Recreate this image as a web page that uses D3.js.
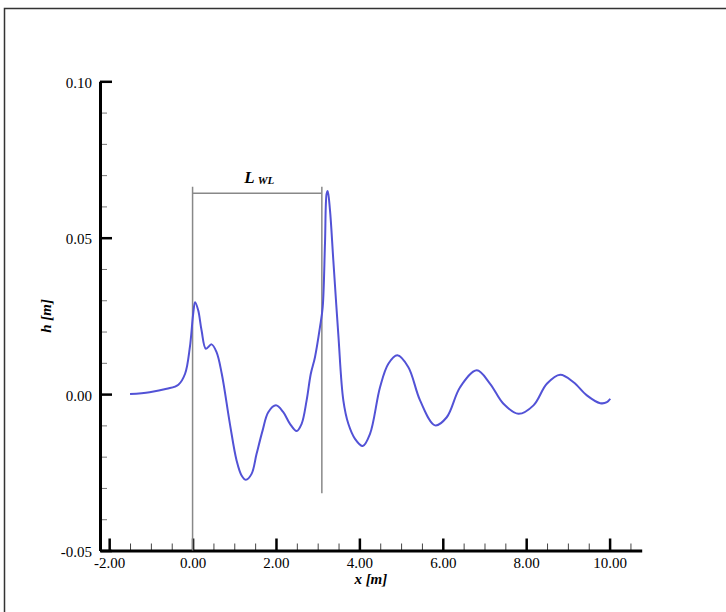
<!DOCTYPE html>
<html>
<head>
<meta charset="utf-8">
<script src="https://cdn.jsdelivr.net/npm/d3@7/dist/d3.min.js"></script>
<style>
  html, body { margin: 0; padding: 0; background: #fff; }
  svg { display: block; }
</style>
</head>
<body>
<div id="chart"></div>
<script>
// wave elevation along the channel
const xPos = [-1.5, -1.03, -0.62, -0.34, -0.18, -0.065, 0.015, 0.06, 0.135, 0.215,
  0.32, 0.455, 0.575, 0.70, 0.895, 1.055, 1.175, 1.28, 1.415, 1.535,
  1.68, 1.815, 2.0, 2.175, 2.335, 2.495, 2.615, 2.735, 2.835, 2.935,
  3.055, 3.12, 3.175, 3.215, 3.24, 3.295, 3.375, 3.495, 3.615, 3.735,
  3.895, 4.08, 4.255, 4.495, 4.695, 4.91, 5.175, 5.455, 5.815, 6.095,
  6.415, 6.815, 7.135, 7.455, 7.815, 8.175, 8.495, 8.815, 9.135, 9.455,
  9.775, 9.935, 10.015]
const hVal = [0.0, 0.0006, 0.0017, 0.003, 0.0065, 0.015, 0.0257, 0.0294, 0.0268, 0.0204,
  0.0145, 0.0159, 0.0134, 0.0065, -0.0095, -0.0212, -0.026, -0.0274, -0.0255, -0.0191,
  -0.0116, -0.0058, -0.0036, -0.0058, -0.0095, -0.0118, -0.0095, -0.002, 0.0065, 0.0118,
  0.0214, 0.0278, 0.0481, 0.0641, 0.0649, 0.0588, 0.0428, 0.019, -0.002, -0.0095,
  -0.0143, -0.0166, -0.0127, 0.0022, 0.0097, 0.0124, 0.0086, -0.002, -0.01, -0.0074,
  0.0022, 0.0076, 0.0033, -0.0031, -0.0063, -0.0036, 0.0033, 0.0062, 0.0038, -0.0004,
  -0.0029, -0.0026, -0.0015]

const xMajor = [-2, 0, 2, 4, 6, 8, 10]
const xMinor = d3.range(-1.5, 10.51, 0.5).filter(v => Math.abs(v % 2) > 1e-6)
const yMajor = [-0.05, 0, 0.05, 0.10]
const yMinor = d3.range(-0.04, 0.0951, 0.01).filter(v => Math.abs(Math.round(v * 100) % 5) !== 0)

// wavelength marker: start, end, bar height, top of the ticks, bottom of the end tick
const lwStart = 0, lwEnd = 3.10
const lwBar = 0.0642, lwTop = 0.0663, lwEndBottom = -0.0317

const width = 726, height = 612

const svg = d3.select('#chart')
    .append('svg')
    .attr('width', width)
    .attr('height', height)

// frame, only top and left edges show
svg.append('path')
    .attr('d', `M4.5,${height} V8.5 H${width}`)
    .attr('fill', 'none')
    .attr('stroke', '#333')
    .attr('stroke-width', 1.5)

const x = d3.scaleLinear().domain([-2.22, 10.77]).range([100, 641.7])
const y = d3.scaleLinear().domain([-0.05, 0.10]).range([550.5, 81.3])

const fmt = d => d.toFixed(2)
const serif = 'Liberation Serif, Times New Roman, serif'

// minor ticks
svg.append('g')
    .attr('transform', `translate(0,${y(-0.05)})`)
    .call(d3.axisBottom(x).tickValues(xMinor).tickSize(-7).tickFormat(''))
    .call(g => g.select('.domain').remove())
    .call(g => g.selectAll('line').attr('stroke', '#444').attr('stroke-width', 1))

svg.append('g')
    .attr('transform', `translate(${x(-2.22)},0)`)
    .call(d3.axisLeft(y).tickValues(yMinor).tickSize(-7).tickFormat(''))
    .call(g => g.select('.domain').remove())
    .call(g => g.selectAll('line').attr('stroke', '#777').attr('stroke-width', 1))

// major axes
svg.append('g')
    .attr('transform', `translate(0,${y(-0.05)})`)
    .call(d3.axisBottom(x).tickValues(xMajor).tickSizeInner(-12).tickSizeOuter(0)
        .tickPadding(7).tickFormat(fmt))
    .call(g => g.select('.domain').attr('stroke', '#000').attr('stroke-width', 3))
    .call(g => g.selectAll('line').attr('stroke', '#000').attr('stroke-width', 2.5))
    .call(g => g.selectAll('text').style('font-family', serif).style('font-size', '15px').attr('fill', '#000'))

svg.append('g')
    .attr('transform', `translate(${x(-2.22)},0)`)
    .call(d3.axisLeft(y).tickValues(yMajor).tickSizeInner(-12).tickSizeOuter(0)
        .tickPadding(8).tickFormat(fmt))
    .call(g => g.select('.domain').attr('stroke', '#000').attr('stroke-width', 3))
    .call(g => g.selectAll('line').attr('stroke', '#000').attr('stroke-width', 2.5))
    .call(g => g.selectAll('text').style('font-family', serif).style('font-size', '15px')
        .attr('fill', '#000').attr('dy', '0.4em'))

// axis titles
svg.append('text')
    .attr('x', (x(-2.22) + x(10.77)) / 2)
    .attr('y', 584)
    .attr('text-anchor', 'middle')
    .style('font-family', serif)
    .style('font-size', '15px')
    .style('font-weight', 'bold')
    .style('font-style', 'italic')
    .text('x [m]')

svg.append('text')
    .attr('transform', `translate(51,${(y(-0.05) + y(0.10)) / 2}) rotate(-90)`)
    .attr('text-anchor', 'middle')
    .style('font-family', serif)
    .style('font-size', '15px')
    .style('font-weight', 'bold')
    .style('font-style', 'italic')
    .text('h [m]')

// L_WL marker
const mark = svg.append('g')
    .attr('fill', 'none')
    .attr('stroke', '#888')
    .attr('stroke-width', 1.5)

mark.append('line')
    .attr('x1', x(lwStart)).attr('x2', x(lwStart))
    .attr('y1', y(lwTop)).attr('y2', y(-0.05))
mark.append('line')
    .attr('x1', x(lwEnd)).attr('x2', x(lwEnd))
    .attr('y1', y(lwTop)).attr('y2', y(lwEndBottom))
mark.append('line')
    .attr('x1', x(lwStart)).attr('x2', x(lwEnd))
    .attr('y1', y(lwBar)).attr('y2', y(lwBar))

const lbl = svg.append('text')
    .attr('x', (x(lwStart) + x(lwEnd)) / 2 + 2)
    .attr('y', 183)
    .attr('text-anchor', 'middle')
    .style('font-family', serif)
    .style('font-weight', 'bold')
    .style('font-style', 'italic')
lbl.append('tspan').style('font-size', '17px').text('L')
lbl.append('tspan').style('font-size', '11px').attr('dx', 3).attr('dy', 1).text('WL')

// the curve
const pts = xPos.map((d, i) => [d, hVal[i]])
const line = d3.line()
    .x(d => x(d[0]))
    .y(d => y(d[1]))
    .curve(d3.curveCatmullRom.alpha(0.5))

svg.append('path')
    .datum(pts)
    .attr('d', line)
    .attr('fill', 'none')
    .attr('stroke', '#5252d6')
    .attr('stroke-width', 2)
</script>
</body>
</html>
